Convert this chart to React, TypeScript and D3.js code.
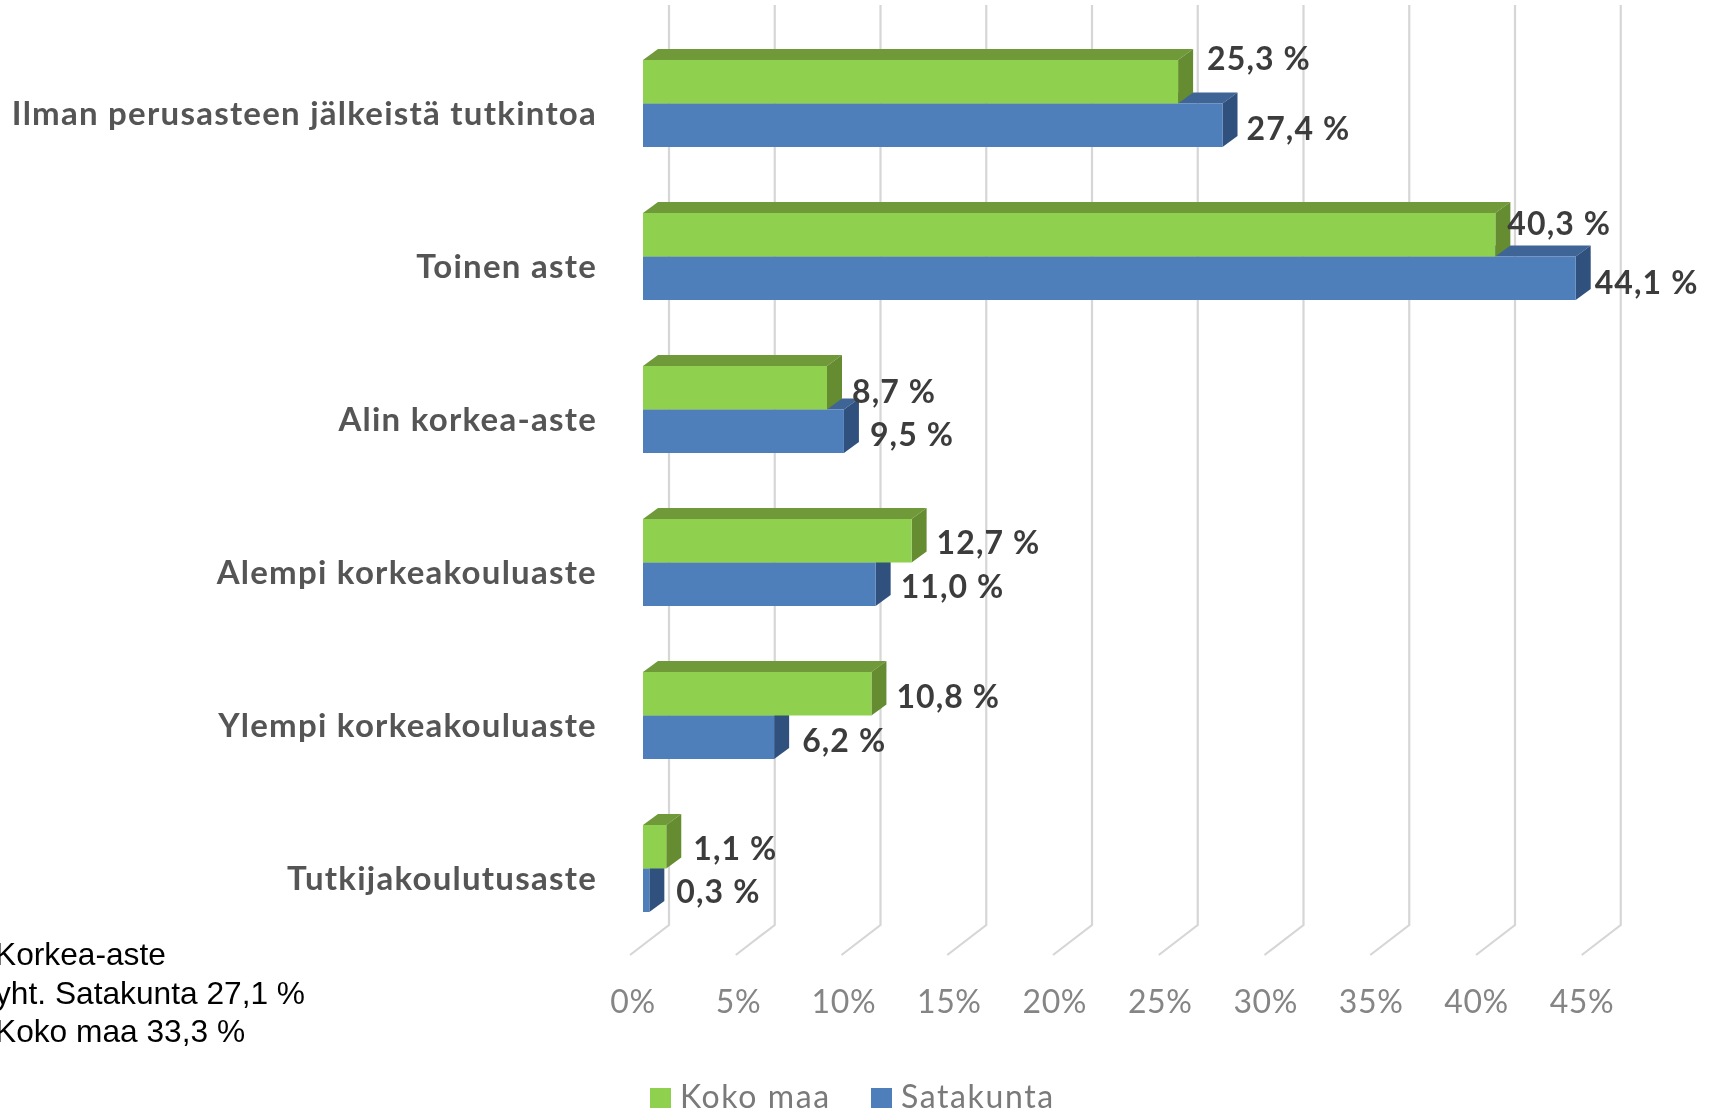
import { useEffect, useRef } from 'react'
import * as d3 from 'd3'

const categories = [
  'Ilman perusasteen jälkeistä tutkintoa',
  'Toinen aste',
  'Alin korkea-aste',
  'Alempi korkeakouluaste',
  'Ylempi korkeakouluaste',
  'Tutkijakoulutusaste',
]
const kokoMaa = [25.3, 40.3, 8.7, 12.7, 10.8, 1.1]
const satakunta = [27.4, 44.1, 9.5, 11.0, 6.2, 0.3]
const xTicks = [0, 5, 10, 15, 20, 25, 30, 35, 40, 45]
const noteLines = ['Korkea-aste', 'yht. Satakunta 27,1 %', 'Koko maa 33,3 %']

// hand placed data labels in the original, [dx from bar end, dy from bar middle]
const greenNudge = [[29, -23], [12, -11], [25, 4], [25, 2], [25, 3], [27, 2]]
const blueNudge = [[24, 4], [19, 5], [26, 4], [25, 3], [28, 4], [27, 2]]

const fmt = (v: number) => v.toFixed(1).replace('.', ',') + ' %'

export default function App() {
  const svgRef = useRef<SVGSVGElement>(null)

  useEffect(() => {
    const W = 1711
    const H = 1111
    const depthX = 15
    const depthY = 11

    const x = d3.scaleLinear().domain([0, 45]).range([643, 643 + 45 * 21.15])
    const y = d3.scaleBand<string>().domain(categories).range([60, 912]).paddingInner(66 / 153)
    const half = y.bandwidth() / 2

    const svg = d3.select(svgRef.current)
    svg.selectAll('*').remove()

    // back wall and floor gridlines
    const grid = svg.append('g').attr('fill', 'none').attr('stroke', '#d6d6d6').attr('stroke-width', 2.2)
    xTicks.forEach((t) => {
      const p = d3.path()
      p.moveTo(x(t) + 26, 5)
      p.lineTo(x(t) + 26, 925)
      p.lineTo(x(t) - 13, 955)
      grid.append('path').attr('d', p.toString())
    })

    const bar3d = (value: number, top: number, front: string, upper: string, side: string) => {
      const x0 = x(0)
      const x1 = x(value)
      const bottom = top + half
      const g = svg.append('g')
      g.append('polygon')
        .attr('points', `${x0},${top} ${x0 + depthX},${top - depthY} ${x1 + depthX},${top - depthY} ${x1},${top}`)
        .attr('fill', upper)
      g.append('polygon')
        .attr('points', `${x1},${top} ${x1 + depthX},${top - depthY} ${x1 + depthX},${bottom - depthY} ${x1},${bottom}`)
        .attr('fill', side)
      g.append('rect')
        .attr('x', x0).attr('y', top)
        .attr('width', x1 - x0).attr('height', half)
        .attr('fill', front)
    }

    categories.forEach((c, i) => {
      const top = y(c) as number
      bar3d(satakunta[i], top + half, '#4e7fbb', '#3e6596', '#30517e')
      bar3d(kokoMaa[i], top, '#8fd14f', '#70993a', '#658c30')
    })

    // category labels
    svg.append('g')
      .selectAll('text')
      .data(categories)
      .join('text')
      .attr('x', 597)
      .attr('y', (c) => (y(c) as number) + half + 10)
      .attr('dy', '0.35em')
      .attr('text-anchor', 'end')
      .attr('font-family', 'Lato')
      .attr('font-weight', 700)
      .attr('font-size', 33)
      .attr('letter-spacing', 1.25)
      .attr('fill', '#555555')
      .text((c) => c)

    // value labels
    const labels = svg.append('g')
      .attr('font-family', 'Lato')
      .attr('font-weight', 700)
      .attr('font-size', 32)
      .attr('letter-spacing', 1.1)
      .attr('fill', '#3c3c3c')
    categories.forEach((c, i) => {
      const top = y(c) as number
      labels.append('text')
        .attr('x', x(kokoMaa[i]) + greenNudge[i][0])
        .attr('y', top + half / 2 + greenNudge[i][1])
        .attr('dy', '0.35em')
        .text(fmt(kokoMaa[i]))
      labels.append('text')
        .attr('x', x(satakunta[i]) + blueNudge[i][0])
        .attr('y', top + half * 1.5 + blueNudge[i][1])
        .attr('dy', '0.35em')
        .text(fmt(satakunta[i]))
    })

    // x axis labels
    const tickX = d3.scaleLinear().domain([0, 45]).range([633, 1582])
    svg.append('g')
      .selectAll('text')
      .data(xTicks)
      .join('text')
      .attr('x', (t) => tickX(t))
      .attr('y', 1002)
      .attr('dy', '0.35em')
      .attr('text-anchor', 'middle')
      .attr('font-family', 'Lato')
      .attr('font-size', 32)
      .attr('letter-spacing', 0.6)
      .attr('fill', '#858585')
      .text((t) => `${t}%`)

    // pasted note on the left
    svg.append('g')
      .selectAll('text')
      .data(noteLines)
      .join('text')
      .attr('x', -5)
      .attr('y', (_, i) => 954 + i * 38.5)
      .attr('dy', '0.35em')
      .attr('font-family', 'Liberation Sans')
      .attr('font-size', 31.7)
      .attr('fill', '#000')
      .text((d) => d)

    // legend
    const legendItems = [
      { label: 'Koko maa', color: '#8fd14f', lx: 650 },
      { label: 'Satakunta', color: '#4e7fbb', lx: 871 },
    ]
    legendItems.forEach((item) => {
      const lg = svg.append('g').attr('transform', `translate(${item.lx},1088)`)
      lg.append('rect').attr('width', 21).attr('height', 20).attr('fill', item.color)
      lg.append('text')
        .attr('x', 30).attr('y', 9).attr('dy', '0.35em')
        .attr('font-family', 'Lato').attr('font-size', 32).attr('letter-spacing', 1.6).attr('fill', '#7a7a7a')
        .text(item.label)
    })

    svg.attr('width', W).attr('height', H)
    return () => { svg.selectAll('*').remove() }
  }, [])

  // the reference is an upscaled bitmap, so everything is slightly soft
  return <svg ref={svgRef} width={1711} height={1111} style={{ position: 'absolute', left: 0, top: 0, display: 'block', filter: 'blur(0.6px)' }} />
}
